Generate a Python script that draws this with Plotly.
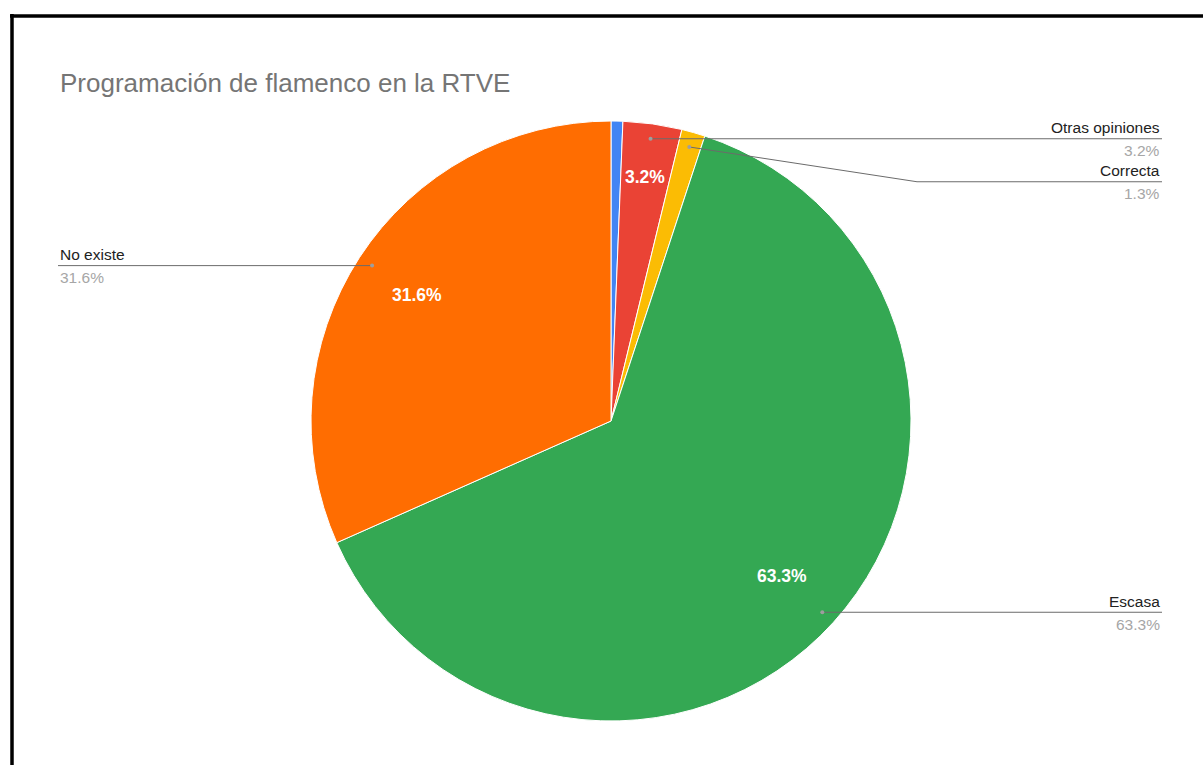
import math
import plotly.graph_objects as go

# ---- data ----
categories = ["Excesiva", "Otras opiniones", "Correcta", "Escasa", "No existe"]
counts = [1, 5, 2, 100, 50]
colors = ["#4285F4", "#EA4335", "#FBBC04", "#34A853", "#FF6D01"]
title_text = "Programación de flamenco en la RTVE"

# ---- layout geometry (pixels) ----
W, H = 1203, 765
CX, CY, R = 611, 421, 300
FONT = "Liberation Sans, Arial, sans-serif"


def px(x):
    return x / W


def py(y):
    return 1 - y / H


total = sum(counts)
pcts = [c / total * 100 for c in counts]
mids = []
acc = 0
for c in counts:
    a0 = acc / total * 360
    acc += c
    a1 = acc / total * 360
    mids.append((a0 + a1) / 2)


def polar(angle_deg, frac):
    t = math.radians(angle_deg)
    return CX + frac * R * math.sin(t), CY - frac * R * math.cos(t)


fig = go.Figure()
fig.add_trace(go.Pie(
    labels=categories,
    values=counts,
    sort=False,
    direction="clockwise",
    rotation=0,
    marker=dict(colors=colors, line=dict(color="white", width=1)),
    textinfo="none",
    hoverinfo="label+percent",
    showlegend=False,
    domain=dict(x=[px(CX - R), px(CX + R)], y=[py(CY + R), py(CY - R)]),
))

annotations = []
shapes = []

# inside labels
for p, m in zip(pcts, mids):
    if p >= 2:
        frac = 0.77 if p > 10 else 0.82
        x, y = polar(m, frac)
        annotations.append(dict(
            x=px(x), y=py(y), xref="paper", yref="paper",
            text=f"<b>{p:.1f}%</b>", showarrow=False,
            xanchor="center", yanchor="middle",
            font=dict(family=FONT, size=17.5, color="white"),
        ))

# outside labels with leader lines
X_RIGHT, X_LEFT = 1162, 58
ELBOW_X = CX + R + 6
GAP = 43
LINE_COLOR = "#6b6b6b"
right, left = [], []
for i, (p, m) in enumerate(zip(pcts, mids)):
    if p < 1:
        continue
    dx, dy = polar(m, 0.95)
    (right if m < 180 else left).append([dy, dx, i])

for side in (right, left):
    side.sort()
    prev = -1e9
    for item in side:
        dy, dx, i = item
        ly = max(dy, prev + GAP)
        prev = ly
        is_right = side is right
        xe = X_RIGHT if is_right else X_LEFT
        if abs(ly - dy) < 0.5:
            path = f"M {px(dx)} {py(dy)} L {px(xe)} {py(ly)}"
        else:
            ex = ELBOW_X if is_right else CX - R - 6
            path = f"M {px(dx)} {py(dy)} L {px(ex)} {py(ly)} L {px(xe)} {py(ly)}"
        shapes.append(dict(type="path", path=path, xref="paper", yref="paper",
                           line=dict(color=LINE_COLOR, width=1)))
        shapes.append(dict(type="circle", xref="paper", yref="paper",
                           x0=px(dx - 2), x1=px(dx + 2), y0=py(dy + 2), y1=py(dy - 2),
                           fillcolor="#9e9e9e", line=dict(width=0)))
        anchor = "right" if is_right else "left"
        annotations.append(dict(
            x=px(xe), y=py(ly - 11), xref="paper", yref="paper",
            text=categories[i], showarrow=False, xanchor=anchor, yanchor="middle",
            font=dict(family=FONT, size=15.5, color="#222222"),
        ))
        annotations.append(dict(
            x=px(xe), y=py(ly + 12), xref="paper", yref="paper",
            text=f"{pcts[i]:.1f}%", showarrow=False, xanchor=anchor, yanchor="middle",
            font=dict(family=FONT, size=15.5, color="#a6a6a6"),
        ))

# frame lines (top and left)
shapes.append(dict(type="line", xref="paper", yref="paper",
                   x0=px(10), x1=1, y0=py(16), y1=py(16),
                   line=dict(color="black", width=3.5)))
shapes.append(dict(type="line", xref="paper", yref="paper",
                   x0=px(12), x1=px(12), y0=py(14), y1=0,
                   line=dict(color="black", width=3.5)))

fig.update_layout(
    width=W, height=H,
    margin=dict(l=0, r=0, t=0, b=0),
    paper_bgcolor="white",
    plot_bgcolor="white",
    title=dict(text=title_text, x=px(60), xanchor="left", xref="paper",
               y=py(83), yanchor="middle", yref="paper",
               font=dict(family=FONT, size=26, color="#757575")),
    annotations=annotations,
    shapes=shapes,
)

fig.write_html("out.html",
               config={"displayModeBar": False},
               post_script="document.body.style.margin='0';document.body.style.overflow='hidden';")
